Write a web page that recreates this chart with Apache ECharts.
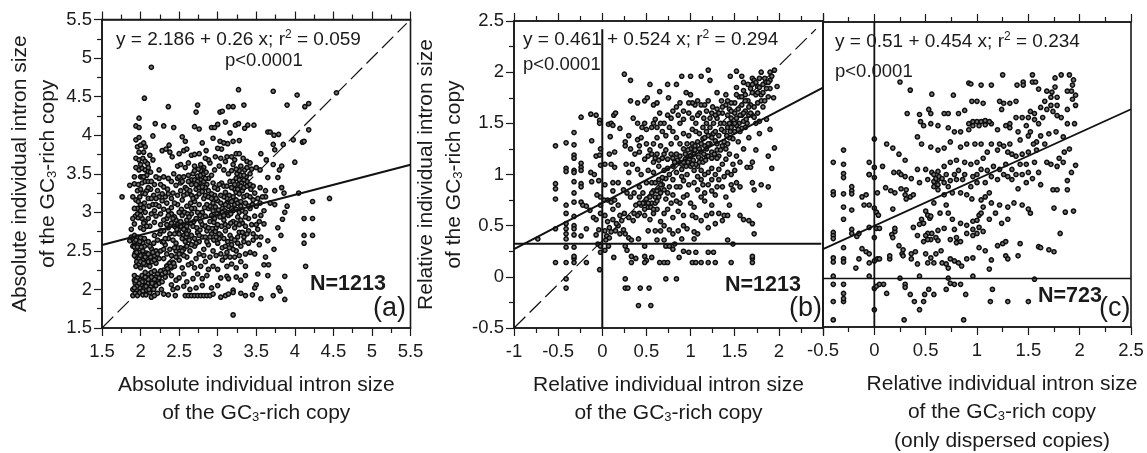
<!DOCTYPE html>
<html><head><meta charset="utf-8">
<script src="https://cdn.jsdelivr.net/npm/echarts@6/dist/echarts.min.js"></script>
<style>html,body{margin:0;padding:0;background:#fff}#c{width:1147px;height:453px}</style>
</head><body><div id="c"></div>
<script>
const pointsA=[[2.14,4.88],[2.05,4.48],[2.36,4.37],[2.74,4.39],[2.72,4.3],[3.27,4.59],[3.34,4.39],[3.72,4.57],[4.03,4.52],[3.9,4.39],[4.54,4.55],[4.13,4.37],[4.18,4.41],[4.18,4.07],[3.98,3.94],[4.1,3.91],[4.12,3.92],[4.0,3.65],[4.05,3.25],[4.45,3.18],[4.23,3.14],[4.12,2.92],[4.23,2.92],[4.12,2.7],[4.23,2.7],[4.12,2.6],[4.14,2.3],[3.87,2.17],[3.87,1.87],[3.2,1.67],[1.76,3.2],[3.56,1.88],[3.72,1.92],[3.79,2.02],[3.81,1.98],[3.52,2.2],[3.65,2.18],
[1.98,4.22],[1.94,4.12],[1.98,4.1],[2.19,4.15],[2.3,4.12],[2.43,4.1],[2.7,4.11],[2.76,4.08],[2.92,4.1],[2.96,4.1],[3.0,4.14],[3.1,4.17],[3.03,4.3],[3.06,4.31],[3.14,4.37],[3.2,4.37],[3.23,4.13],[3.27,4.15],[3.39,4.13],[3.35,4.09],[3.47,4.13],[3.16,4.03],[2.16,3.99],[3.65,4.04],[3.68,4.04],[3.73,4.0],[3.79,4.01],[3.72,3.88],[3.85,3.88],[3.74,3.81],[3.56,3.76],[3.63,3.68],[3.72,3.62],[3.83,3.6],[3.8,3.55],[3.65,3.45],[3.78,3.45],[3.62,3.28],[3.74,3.28],[3.83,3.32],[3.86,3.25],[3.62,3.2],[3.68,3.12],[3.74,3.1],[3.9,3.08],[3.87,3.0],[3.84,2.91],[3.78,2.8],[3.82,2.7],[3.65,2.63],[3.73,2.52],[3.62,2.42],[3.6,2.32],[3.66,2.32],
[1.94,3.94],[1.98,3.97],[1.96,3.85],[2.0,3.87],[2.04,3.9],[1.94,3.7],[1.98,3.68],[2.03,3.7],[2.06,3.66],[1.94,3.58],[1.98,3.55],[2.02,3.57],[2.06,3.55],[2.1,3.53],[2.13,3.52],[2.09,3.63],[1.86,3.35],[1.92,3.37],[1.97,3.36],[2.02,3.38],[2.06,3.4],[2.1,3.4],[2.14,3.4],[2.18,3.36],[1.9,3.2],[1.94,3.16],[1.99,3.2],[2.03,3.25],[2.08,3.28],[2.13,3.3],[2.17,3.22],[2.22,3.28],[1.96,3.05],[2.0,3.02],[2.06,3.0],[2.11,3.08],[2.16,3.1],[1.93,2.95],[1.97,2.93],[2.02,2.92],[2.06,2.88],[2.1,2.92],[2.2,2.95],[1.92,2.85],[2.0,2.8],[2.04,2.78],[2.12,2.82],[2.18,2.87],[1.88,2.68],[1.92,2.7],[1.96,2.68],[2.0,2.67],[2.05,2.66],[1.86,2.63],[1.92,2.6],[1.97,2.58],[2.03,2.6],[2.1,2.62],[2.18,2.7],[2.25,2.72],[1.94,2.52],[1.98,2.48],[2.03,2.5],[2.08,2.47],[2.14,2.53],[2.2,2.5],[1.94,2.42],[1.98,2.4],[2.03,2.38],[2.08,2.4],[2.13,2.42],[2.18,2.44],[2.24,2.4],[1.94,2.3],[2.0,2.28],[2.06,2.32],[2.12,2.3],[1.92,2.18],[1.96,2.15],[2.0,2.12],[2.04,2.15],[2.08,2.18],[2.12,2.12],[2.16,2.15],[2.2,2.1],[1.93,2.08],[1.97,2.04],[2.01,2.06],[2.05,2.02],[2.09,2.06],[2.13,2.04],[2.17,2.0],[2.22,2.12],[2.26,2.18],[2.3,2.25],[2.34,2.3],[2.38,2.34],[1.9,1.92],[1.93,1.95],[1.96,1.92],[1.99,1.96],[2.03,1.93],[2.07,1.93],[2.14,1.9],[2.18,1.92],[2.22,1.95],[2.27,2.0],[2.3,1.94],[2.36,1.93],[2.42,2.0],[2.45,1.92],
[2.28,3.8],[2.33,3.82],[2.37,3.87],[2.38,3.78],[2.41,3.72],[2.5,3.76],[2.56,3.8],[2.6,3.82],[2.66,3.74],[2.7,3.75],[2.76,3.76],[2.8,3.9],[2.85,3.8],[2.94,3.96],[3.03,3.92],[3.08,3.9],[3.13,3.89],[3.2,3.92],[3.28,3.93],[3.05,3.82],[3.0,3.83],[2.97,3.72],[3.12,3.72],[3.24,3.76],[3.28,3.76],[3.33,3.7],[3.38,3.66],[3.42,3.64],[2.58,3.92],[2.54,3.98],[2.24,3.55],[2.3,3.46],[2.36,3.44],[2.43,3.5],[2.48,3.6],[2.52,3.62],[2.58,3.58],[2.62,3.48],[2.68,3.5],[2.74,3.47],[2.78,3.42],[2.82,3.58],[2.9,3.64],[2.96,3.55],[3.02,3.6],[3.08,3.55],[3.14,3.5],[3.2,3.62],[3.25,3.5],[3.3,3.48],[3.35,3.55],[3.42,3.5],[3.5,3.58],[3.55,3.55],[2.3,3.33],[2.35,3.3],[2.42,3.25],[2.46,3.35],[2.52,3.38],[2.58,3.32],[2.66,3.36],[2.72,3.3],[2.76,3.38],[2.82,3.4],[2.88,3.28],[2.94,3.38],[3.0,3.3],[3.05,3.38],[3.1,3.26],[3.16,3.4],[3.22,3.3],[3.27,3.36],[3.32,3.28],[3.38,3.4],[3.43,3.3],[3.48,3.25],[3.55,3.32],
[2.28,3.15],[2.34,3.12],[2.4,3.18],[2.48,3.1],[2.54,3.16],[2.6,3.08],[2.65,3.12],[2.7,3.05],[2.76,3.1],[2.82,3.18],[2.88,3.05],[2.94,3.12],[3.0,3.15],[3.06,3.05],[3.12,3.12],[3.18,3.05],[3.24,3.16],[3.3,3.08],[3.36,3.12],[3.42,3.05],[3.5,3.08],[3.55,3.12],[2.26,2.98],[2.34,2.92],[2.4,2.98],[2.46,2.9],[2.54,2.96],[2.6,2.9],[2.66,2.98],[2.72,2.92],[2.78,2.88],[2.84,2.95],[2.9,2.88],[2.96,2.92],[3.02,2.98],[3.08,2.9],[3.14,2.96],[3.2,2.88],[3.26,2.94],[3.32,2.86],[3.4,2.92],[3.48,2.95],[3.54,2.88],[3.6,2.85],[2.3,2.76],[2.36,2.8],[2.44,2.72],[2.5,2.78],[2.56,2.7],[2.62,2.76],[2.68,2.82],[2.74,2.74],[2.8,2.68],[2.86,2.76],[2.92,2.72],[2.98,2.8],[3.04,2.7],[3.1,2.76],[3.16,2.7],[3.22,2.8],[3.28,2.74],[3.34,2.68],[3.4,2.76],[3.46,2.72],[3.52,2.78],[3.56,2.68],[2.32,2.58],[2.38,2.52],[2.46,2.6],[2.52,2.54],[2.58,2.62],[2.64,2.5],[2.7,2.56],[2.76,2.62],[2.82,2.52],[2.88,2.58],[2.94,2.5],[3.0,2.6],[3.06,2.54],[3.12,2.48],[3.18,2.58],[3.24,2.5],[3.3,2.56],[3.36,2.46],[3.42,2.48],[3.48,2.46],[3.54,2.58],
[2.3,2.4],[2.42,2.35],[2.46,2.42],[2.5,2.38],[2.54,2.28],[2.6,2.42],[2.66,2.34],[2.72,2.4],[2.78,2.3],[2.84,2.36],[2.88,2.26],[2.94,2.3],[3.0,2.26],[3.06,2.38],[3.12,2.3],[3.18,2.33],[3.24,2.28],[3.3,2.36],[3.36,2.3],[2.4,2.18],[2.46,2.12],[2.5,2.15],[2.56,2.2],[2.6,2.1],[2.68,2.14],[2.74,2.2],[2.8,2.14],[2.86,2.18],[3.04,2.15],[3.12,2.17],[3.14,2.14],[3.24,2.16],[3.3,2.12],[3.36,2.18],[2.4,2.06],[2.48,2.02],[2.56,2.04],[2.64,2.0],[2.72,2.02],[2.8,2.05],[2.92,2.02],[3.0,2.05],[3.2,1.99],[3.5,2.06],[3.48,2.02],[2.58,1.92],[2.62,1.92],[2.66,1.92],[2.7,1.92],[2.74,1.92],[2.78,1.92],[2.82,1.92],[2.86,1.92],[2.9,1.92],[2.94,1.94],[3.04,1.9],[3.1,1.92],[3.14,1.94],[3.2,1.96],[3.3,1.95],[3.36,1.92],[3.45,1.93],
[2.97,3.07],[3.01,3.03],[2.99,2.98],[3.03,2.94],[2.95,2.87],[3.0,2.84],[3.05,2.82],[2.93,2.79],[2.97,2.75],[3.02,2.72],[2.9,2.68],[2.95,2.64],[3.09,3.02],[3.13,3.0],[3.17,2.98],[3.2,3.02],[3.24,3.04],[3.28,3.0],[3.32,3.02],[3.36,3.0],[3.4,3.08],[3.45,3.1],[3.08,2.66],[3.13,2.62],[3.18,2.66],[2.53,3.04],[2.57,3.0],[2.61,2.98],[2.52,2.88],[2.56,2.84],[2.6,2.82],[2.5,2.72],[2.54,2.66],[2.59,2.68],[2.63,2.64],[2.66,2.7],[2.7,2.66],[2.73,2.8],[2.77,2.77],[2.8,2.84],[2.84,2.82],[2.88,2.8],[2.72,3.2],[2.76,3.24],[2.8,3.27],[2.84,3.22],[2.88,3.2],[2.74,3.34],[2.78,3.48],[2.82,3.5],[2.8,3.55],[2.85,3.52],[2.88,3.44],[2.92,3.48],[2.86,3.36],[2.84,3.32],[3.2,3.4],[3.24,3.44],[3.28,3.42],[3.31,3.38],[3.34,3.42],[3.37,3.46],[3.24,3.26],[3.28,3.24],[3.34,3.2],[3.38,3.22],[3.42,3.2],[3.46,3.16],[3.2,3.2],[3.15,3.22],[3.12,3.18],[3.08,3.2],[3.04,3.22],[2.96,3.22],[2.92,3.18],[2.6,3.24],[2.56,3.22],[2.52,3.28],[2.48,3.22],[2.44,3.12],[2.4,3.06],[2.36,3.02],
[2.1,2.2],[2.14,2.22],[2.18,2.24],[2.22,2.2],[2.26,2.24],[2.24,2.08],[2.28,2.1],[2.32,2.16],[2.36,2.22],[2.4,2.28],[2.44,2.3],[2.06,2.1],[2.1,2.08],[2.14,2.1],[2.18,2.06],[2.02,2.18],[2.06,2.22],[1.92,2.12],[1.9,2.0],[1.95,2.0],[1.99,2.02],[2.03,1.98],[2.08,1.99],[2.12,1.96],[1.92,2.62],[1.9,2.56],[1.94,2.64],[1.93,2.47],[1.95,2.36],[1.98,2.33],[2.0,2.44],[2.05,2.44],[2.1,2.36],[2.15,2.36],[2.2,2.34],[2.05,2.56],[2.12,2.56],[2.17,2.6],[2.22,2.64],[1.92,3.46],[1.96,3.28],[1.92,3.05],[1.9,2.92],[1.88,2.78],[2.0,3.46],[2.05,3.12],[2.1,3.18],[2.14,3.18],[2.02,3.46],[2.26,3.36],[2.24,3.2],[2.3,3.04],[2.34,2.84],[2.26,2.84],[2.4,2.86],[2.42,2.64],[2.36,2.66],[2.28,2.62],[2.34,2.46],[2.4,2.44],[2.46,2.5],[2.5,2.46],[2.56,2.44],[2.62,2.32],[2.7,2.28],[2.76,2.46],[2.82,2.44],[2.9,2.42],[2.98,2.44],[3.04,2.46],[3.1,2.42],[3.16,2.42],[3.22,2.42],[3.28,2.44],[3.34,2.62],[3.4,2.6],[3.46,2.64],[3.5,2.68],[3.44,2.84],[3.5,2.84],[3.56,2.96],[3.6,3.02],[3.52,3.18],[3.58,3.2],[3.44,3.56],[3.38,3.58],[3.3,3.6],[3.22,3.68],[3.18,3.72],[3.1,3.66],[3.04,3.7],[2.88,3.68],[2.84,3.7],[2.78,3.62],[2.7,3.6],[2.62,3.64],[2.66,3.42],[2.56,3.46],[2.48,3.44],[2.4,3.4],[2.24,3.44],[2.2,3.46],
[2.92,2.96],[2.94,3.02],[2.9,3.08],[2.86,3.1],[2.83,3.06],[2.8,3.0],[2.77,2.96],[2.74,3.0],[2.7,3.14],[2.66,3.05],[2.63,2.94],[2.65,2.86],[2.69,2.88],[2.58,2.76],[2.6,2.72],[2.56,2.78],[2.52,2.82],[2.48,2.84],[2.47,2.78],[2.44,2.82],[2.44,2.94],[2.5,3.0],[3.06,3.0],[3.08,2.96],[3.1,2.84],[3.14,2.82],[3.17,2.86],[3.24,2.86],[3.28,2.84],[3.3,2.9],[3.36,2.94],[3.36,2.82],[3.38,2.72],[3.32,2.74],[3.26,2.68],[3.22,2.64],[3.26,2.6],[3.2,2.52],[3.15,2.54],[3.1,2.56],[3.02,2.66],[2.98,2.68],[2.86,2.62],[2.84,2.68],[2.76,2.7],[2.72,2.6],[2.66,2.58],[2.6,2.56],[2.56,2.52],[2.54,2.5],[2.48,2.54],[2.44,2.54],[3.22,3.1],[3.26,3.12],[3.3,3.14],[3.18,3.14],[3.14,3.08],[3.1,3.1],[3.04,3.12],[2.98,3.18],[2.92,3.24],[2.96,3.32],[3.02,3.36],[3.08,3.34],[3.12,3.34],[3.18,3.32],[3.22,3.36],[3.26,3.3],[3.3,3.34],[3.34,3.32],[3.38,3.34],[3.42,3.36],[3.46,3.34],[3.34,3.48],[3.28,3.54],[3.24,3.56],[3.18,3.54],[2.7,3.42],[2.74,3.4],[2.72,3.36],[2.76,3.32],[2.8,3.33],[2.84,3.44],[2.78,3.54],[2.75,3.56],[2.7,3.54],[2.5,3.46],[2.54,3.4],[2.62,3.4],[2.6,3.3],[2.64,3.28],[2.66,3.22],[2.68,3.18],[2.2,2.16],[2.24,2.15],[2.28,2.2],[2.32,2.22],[2.35,2.27],[2.39,2.3],[2.43,2.34],[2.18,2.13],[2.14,2.16],[2.1,2.13],[2.06,2.16],[2.02,2.1],[1.98,2.08],[1.94,2.11],[1.95,2.04],[1.92,2.02],[2.07,2.04],[2.11,2.0],[2.15,2.08],[2.2,2.05],[1.92,2.55],[1.96,2.55],[1.99,2.62],[2.01,2.55],[1.92,2.44],[1.95,2.48],[2.0,2.36],[2.04,2.34],[2.06,2.42],[2.1,2.46],[2.16,2.48],[2.18,2.38],[2.22,2.46],[2.26,2.5],[2.3,2.52],[2.3,2.62],[2.32,2.66],[2.38,2.72],[2.26,2.76],[2.3,2.9],[2.36,2.96],[2.42,2.92],[2.32,3.2],[2.28,3.24],[2.36,3.24],[2.2,3.18],[2.2,3.1],[2.24,3.08],[2.0,3.1],[2.04,3.06],[1.96,2.98],[2.0,2.96],[2.04,2.86],[2.08,2.82],[2.14,2.98],[2.18,3.02],[2.1,3.32],[2.06,3.24],[2.0,3.3],[1.97,3.14],[2.08,3.48],[2.04,3.46],[2.1,3.58],[2.0,3.62],[2.04,3.78],[1.98,3.78],[2.06,3.85],[2.12,3.74],[2.16,3.68]];
const pointsB=[[0.25,1.98],[0.32,1.92],[0.54,1.88],[0.65,1.81],[0.74,1.88],[0.84,1.88],[0.9,1.96],[1.0,1.96],[1.12,1.96],[1.2,2.02],[1.22,1.92],[1.3,1.8],[1.45,1.96],[1.52,2.01],[1.58,1.96],[1.7,1.94],[1.8,2.0],[1.9,2.0],[1.95,2.02],[1.98,1.86],
[0.26,-0.02],[0.26,-0.11],[0.29,-0.11],[0.43,-0.11],[0.53,-0.11],[0.41,-0.28],[0.55,-0.28],[0.72,-0.02],[0.84,-0.02],[-0.03,0.07],[-0.41,-0.02],[-0.41,-0.11],[-0.53,0.14],[-0.41,0.14],[-0.32,0.14],[-0.18,0.14],[-0.32,0.18],[-0.32,0.2],[-0.73,0.37],
[-0.53,1.28],[-0.53,0.91],[-0.53,0.86],[-0.53,0.76],[-0.53,0.47],[-0.41,1.31],[-0.41,1.06],[-0.41,1.03],[-0.41,0.7],[-0.41,0.62],[-0.41,0.52],[-0.41,0.47],[-0.41,0.42],[-0.41,0.37],[-0.41,0.29],[-0.32,1.41],[-0.32,1.29],[-0.32,1.19],[-0.32,1.16],[-0.32,1.04],[-0.32,1.02],[-0.32,0.93],[-0.32,0.82],[-0.32,0.73],[-0.32,0.59],[-0.32,0.5],[-0.32,0.47],[-0.32,0.41],[-0.32,0.29],[-0.24,1.56],[-0.24,1.11],[-0.24,1.07],[-0.24,1.04],[-0.24,0.91],[-0.24,0.88],[-0.24,0.73],[-0.22,0.7],[-0.24,0.4],[-0.18,0.69],[-0.14,0.65],[-0.18,0.47],[-0.13,1.59],[-0.07,1.58],[-0.03,1.53],[-0.03,1.5],[-0.12,1.33],[-0.13,1.02],[-0.09,1.0],[-0.12,0.93],[-0.04,0.94],[-0.1,0.58],[-0.07,0.56],[-0.02,0.62],[-0.02,0.7],[-0.02,0.78],[-0.02,1.09],[-0.02,1.25],[-0.07,1.18],[-0.03,1.19],[-0.06,0.8],[-0.04,0.46],[-0.07,0.41],[-0.05,0.32],[-0.02,0.3],[-0.02,0.24],
[0.03,1.1],[0.1,1.1],[0.14,1.07],[0.03,0.9],[0.12,0.92],[0.02,0.75],[0.06,0.75],[0.1,0.73],[0.14,0.75],[0.18,0.7],[0.03,0.6],[0.03,0.45],[0.05,0.4],[0.08,0.38],[0.13,0.19],[0.03,0.26],[0.07,0.3],[0.08,1.2],[0.14,1.22],[0.09,1.37],[0.07,1.49],[0.1,1.5],[0.12,1.48],[0.2,1.45],[0.13,1.58],[0.15,1.6],[0.26,1.32],[0.3,1.38],[0.26,1.28],[0.32,1.25],[0.27,1.1],[0.3,1.02],[0.24,0.85],[0.28,0.82],[0.32,0.78],[0.2,0.6],[0.25,0.62],[0.3,0.58],[0.35,0.55],[0.18,0.5],[0.15,0.45],[0.26,0.42],[0.3,0.38],[0.33,0.36],[0.41,0.37],[0.26,0.3],[0.28,0.26],[0.33,0.2],[0.33,0.14],[0.38,0.18],[0.48,0.3],[0.48,0.2],[0.5,0.16],[0.48,0.14],[0.56,0.19],[0.65,0.14],[0.7,0.14],[0.74,0.14],[0.72,0.3],[0.76,0.3],[0.8,0.27],[0.82,0.32],
[0.32,1.72],[0.4,1.7],[0.48,1.72],[0.51,1.75],[0.58,1.68],[0.62,1.7],[0.35,1.55],[0.4,1.5],[0.45,1.46],[0.5,1.44],[0.56,1.46],[0.6,1.54],[0.65,1.6],[0.7,1.5],[0.75,1.75],[0.8,1.62],[0.86,1.58],[0.92,1.62],[0.95,1.8],[1.0,1.78],[1.05,1.68],[1.1,1.6],[1.15,1.55],[1.2,1.72],[1.25,1.66],[1.3,1.64],[1.35,1.72],[1.4,1.78],[1.44,1.64],[1.5,1.7],[1.55,1.76],[1.6,1.82],[1.65,1.72],[1.7,1.8],[1.76,1.86],[1.8,1.78],[1.85,1.9],[1.9,1.84],[1.94,1.75],[1.72,1.92],[1.6,1.9],[1.65,1.88],[1.52,1.85],[0.4,1.34],[0.42,1.28],[0.42,1.22],[0.48,1.15],[0.52,1.18],[0.58,1.12],[0.62,1.2],[0.66,1.28],[0.7,1.2],[0.74,1.15],[0.78,1.3],[0.84,1.2],[0.88,1.12],[0.92,1.25],[0.98,1.18],[1.02,1.3],[1.06,1.42],[1.1,1.25],[1.14,1.35],[1.18,1.18],[1.22,1.3],[1.26,1.4],[1.3,1.24],[1.34,1.5],[1.38,1.42],[1.42,1.3],[1.46,1.55],[1.5,1.42],[1.54,1.32],[1.58,1.58],[1.62,1.46],[1.66,1.36],[1.7,1.58],[1.74,1.5],[1.78,1.4],[1.82,1.66],[1.86,1.54],[1.9,1.44],[1.95,1.26],[1.88,1.18],[1.92,1.06],[1.74,1.24],[1.7,1.12],[1.64,1.07],[1.68,1.07],
[1.0,1.12],[1.04,1.2],[1.08,1.08],[1.12,1.15],[0.9,1.05],[0.95,1.08],[0.84,1.02],[0.8,1.08],[1.16,1.28],[1.2,1.38],[1.24,1.22],[1.28,1.33],[1.32,1.18],[1.36,1.28],[1.4,1.15],[1.44,1.2],[1.48,1.1],[1.52,1.18],[1.56,1.12],[1.6,1.25],[0.4,1.05],[0.44,1.0],[0.3,0.92],[0.36,0.82],[0.42,0.78],[0.48,0.72],[0.52,0.68],[0.56,0.72],[0.6,0.78],[0.64,0.85],[0.68,0.9],[0.72,0.96],[0.76,0.88],[0.8,0.8],[0.84,0.74],[0.88,0.88],[0.92,0.94],[0.96,0.8],[1.0,0.72],[1.04,0.68],[1.08,0.85],[1.12,0.95],[1.16,0.82],[1.2,0.9],[1.24,0.7],[1.28,0.8],[1.32,0.95],[1.36,0.88],[1.4,0.78],[1.44,0.7],[1.48,0.85],[1.52,0.92],[1.56,0.88],[1.7,0.92],[1.72,0.85],[1.8,0.9],[1.88,0.88],[1.78,0.7],
[0.42,0.62],[0.48,0.6],[0.54,0.56],[0.58,0.62],[0.62,0.66],[0.66,0.54],[0.7,0.62],[0.74,0.66],[0.8,0.58],[0.86,0.64],[0.92,0.6],[1.02,0.6],[1.06,0.58],[1.12,0.55],[1.18,0.6],[1.24,0.62],[1.28,0.52],[1.36,0.55],[1.38,0.6],[1.56,0.6],[1.6,0.56],[1.66,0.55],[1.7,0.52],[1.72,0.42],[0.52,0.45],[0.6,0.45],[0.66,0.45],[0.7,0.5],[0.76,0.46],[0.8,0.42],[0.86,0.45],[0.92,0.5],[0.96,0.47],[1.04,0.44],[1.08,0.42],[1.2,0.48],[1.42,0.36],[0.62,0.36],[0.7,0.36],[0.9,0.37],[1.04,0.37],[0.92,0.25],[0.98,0.24],[1.06,0.24],[1.2,0.24],[1.26,0.24],[1.48,0.32],[1.12,0.14],[1.2,0.14],[1.02,0.14],[1.06,0.14],[1.28,0.14],[1.46,0.14],[1.7,0.14],[1.7,0.18],[1.7,0.2],[0.87,0.19],
[0.9,1.1],[0.94,1.15],[0.97,1.12],[1.0,1.18],[1.03,1.14],[1.06,1.1],[1.09,1.17],[1.12,1.22],[1.15,1.2],[1.18,1.25],[1.0,1.25],[1.05,1.28],[1.08,1.32],[1.12,1.3],[1.16,1.36],[1.2,1.3],[1.24,1.36],[1.28,1.42],[1.32,1.38],[1.35,1.44],[1.38,1.5],[1.42,1.46],[1.45,1.42],[1.48,1.5],[1.52,1.55],[1.55,1.5],[1.58,1.45],[1.52,1.48],[1.42,1.58],[1.46,1.62],[1.5,1.6],[1.54,1.64],[1.58,1.68],[1.62,1.62],[1.66,1.58],[1.64,1.5],[1.6,1.52],[1.56,1.42],[1.48,1.35],[1.44,1.36],[1.4,1.25],[1.3,1.3],[1.72,1.66],[1.76,1.7],[1.8,1.72],[1.74,1.78],[1.78,1.85],[1.82,1.88],[1.86,1.84],[1.84,1.94],[1.78,1.94],[1.74,1.9],[1.9,1.92],[1.68,1.68],[1.62,1.72],[1.58,1.76],[1.4,1.68],[1.36,1.6],[1.3,1.55],[1.26,1.5],[1.22,1.46],[1.18,1.42],[1.14,1.46],[1.1,1.4],[1.06,1.5],[1.02,1.44],[0.98,1.38],[0.96,1.3],[0.92,1.4],[0.88,1.3],[0.84,1.36],[0.8,1.42],[0.76,1.46],[0.72,1.38],[0.68,1.42],[0.62,1.36],[0.58,1.3],[0.54,1.24],[0.5,1.3],[0.88,1.5],[0.92,1.54],[0.98,1.6],[1.02,1.55],[1.08,1.58],[1.12,1.68],[1.18,1.62],[0.44,0.7],[0.48,0.66],[0.5,0.76],[0.54,0.78],[0.58,0.84],[0.6,0.72],[0.62,0.74],[0.56,0.92],[0.6,0.92],[0.64,0.95],[0.68,0.97],[0.7,0.85],[0.74,0.82],[0.46,0.82],[0.42,0.88],[0.5,0.92],[1.2,1.02],[1.24,1.06],[1.28,1.0],[1.32,1.05],[1.36,1.1],[1.42,1.02],[1.46,1.0],[1.5,1.04],[1.08,0.98],[1.04,1.04],[1.12,1.04],[0.9,0.98],[0.96,1.0],[0.74,1.06],[0.7,1.04],[0.64,1.08],[0.58,1.02],[0.52,1.04],[0.34,1.1],[0.37,1.2],[0.12,0.56],[0.16,0.52],[0.22,0.55],[0.04,0.36],[0.08,0.48],[0.12,0.66],[0.72,0.76],[0.78,0.72],[0.88,0.72],[0.92,0.78],[1.12,0.78],[1.16,0.74],[1.32,0.62],[1.42,0.6],
[0.94,1.2],[0.97,1.24],[1.0,1.08],[0.92,1.12],[0.88,1.18],[0.85,1.14],[0.82,1.12],[1.02,1.1],[1.05,1.24],[1.1,1.12],[1.14,1.12],[1.17,1.14],[1.2,1.18],[1.24,1.16],[1.27,1.2],[1.3,1.16],[1.34,1.24],[1.38,1.32],[1.41,1.38],[1.44,1.5],[1.46,1.46],[1.5,1.5],[1.54,1.44],[1.56,1.58],[1.6,1.6],[1.63,1.54],[1.66,1.66],[1.68,1.6],[1.72,1.56],[1.76,1.6],[1.78,1.52],[1.46,1.7],[1.42,1.72],[1.36,1.66],[1.32,1.6],[1.52,1.78],[1.62,1.78],[1.68,1.84],[1.7,1.88],[1.76,1.8],[1.82,1.8],[1.88,1.9],[1.92,1.96],[1.84,1.72],[1.88,1.76],[1.18,1.5],[1.22,1.55],[1.28,1.58],[1.24,1.6],[1.16,1.68],[1.08,1.72],[1.02,1.7],[0.98,1.7],[0.88,1.7],[0.84,1.66],[0.78,1.55],[0.74,1.58],[0.66,1.5],[0.62,1.46],[0.58,1.5],[0.48,1.5],[0.44,1.36],[0.56,1.2],[0.6,1.16],[0.64,1.14],[0.68,1.16],[0.72,1.24],[0.78,1.2],[0.8,1.16],[0.52,0.72],[0.55,0.68],[0.58,0.66],[0.46,0.72],[0.38,0.7],[0.42,0.72],[0.56,0.82],[0.62,0.84],[0.66,0.82],[0.66,0.9],[0.64,0.78],[0.4,0.6],[0.36,0.62],[0.24,0.46],[0.2,0.42],[0.1,0.44],[0.06,0.54],[0.12,0.84],[0.18,0.92],[1.24,0.95],[1.16,1.0],[1.14,0.9],[1.04,0.92],[0.98,0.9],[0.84,0.88],[0.8,0.95],[0.76,1.0],[1.38,0.98],[1.46,0.9],[1.3,0.88],[1.24,0.84]];
const pointsC=[[0.25,1.91],[0.35,1.83],[0.56,1.79],[0.77,1.78],[0.92,1.9],[0.94,1.89],[1.04,1.88],[1.14,1.88],[1.25,1.98],[1.39,1.88],[1.45,1.91],[1.45,1.88],[1.54,1.98],[1.54,1.91],[1.57,1.91],[1.82,1.98],[1.9,1.98],[1.76,1.95],[1.76,1.86],[1.94,1.93],[1.93,1.88],[1.92,1.82],[1.88,1.82],[1.96,1.78],[1.93,1.74],[1.96,1.68],[1.88,1.64],[1.6,1.84],[1.68,1.82],[1.73,1.81],[1.78,1.76],[1.72,1.76],[1.66,1.72],
[-0.4,-0.43],[0.29,-0.43],[0.87,-0.43],[0,-0.33],[0.44,-0.33],[-0.4,-0.25],[-0.3,-0.25],[-0.3,-0.22],[-0.3,-0.17],[-0.4,-0.08],[-0.3,-0.08],[-0.4,0.0],[-0.05,0.0],[0.25,-0.02],[0.44,0.0],[0.72,-0.02],[0.96,0.0],[1.56,-0.03],[0,-0.12],[0.02,-0.1],[0.05,-0.08],[0.09,-0.08],[0.12,-0.17],[0.3,-0.08],[0.3,-0.11],[0.35,-0.18],[0.39,-0.25],[0.48,-0.25],[0.49,-0.18],[0.53,-0.13],[0.58,-0.18],[0.7,-0.13],[0.74,-0.07],[0.78,-0.08],[0.84,-0.08],[0.89,-0.18],[1.13,-0.25],[1.15,-0.13],[1.3,-0.25],[1.5,-0.25],
[-0.3,1.24],[-0.4,1.12],[-0.3,1.1],[-0.3,1.01],[-0.3,0.97],[-0.4,0.83],[-0.4,0.8],[-0.3,0.81],[-0.22,0.88],[-0.22,0.84],[-0.22,0.81],[-0.3,0.68],[-0.3,0.56],[-0.22,0.65],[-0.12,0.78],[-0.08,0.8],[-0.1,0.7],[-0.05,0.7],[-0.4,0.43],[-0.4,0.4],[-0.4,0.37],[-0.22,0.46],[-0.22,0.42],[-0.17,0.39],[-0.15,0.42],[-0.3,0.28],[-0.12,0.27],[-0.08,0.24],[-0.05,0.22],[-0.4,0.18],[-0.4,0.14],[-0.3,0.17],[-0.3,0.14],[-0.15,0.17],[-0.05,0.13],[-0.05,0.48],[-0.18,0.08],
[0,0.97],[0,1.35],[-0.05,1.12],[0,1.07],[-0.05,1.0],[-0.05,1.0],[0.03,0.82],[0,0.67],[0.02,0.63],[0.04,0.6],[0.02,0.47],[0,0.38],[0.05,0.47],[0.03,0.17],[0,0.15],[0.05,0.17],[0.15,0.17],[0.15,0.2],[0.11,0.87],[0.16,0.84],[0.2,0.82],[0.18,0.66],[0.2,0.44],[0.17,0.41],[0.18,0.38],[0.2,0.47],[0.24,0.3],[0.28,0.26],[0.27,0.22],[0.12,1.3],[0.18,1.26],[0.24,1.2],[0.3,1.14],[0.08,1.08],[0.19,1.02],[0.24,1.02],[0.26,1.0],[0.3,0.98],[0.31,0.85],[0.26,0.86],[0.3,0.8],[0.31,0.76],[0.35,0.78],[0.38,0.8],[0.28,0.2],[0.36,0.22],[0.4,0.24],[0.42,0.12],[0.52,0.13],[0.36,0.17],[0.5,0.22],[0.55,0.18],[0.58,0.13],[0.6,0.22],[0.65,0.25],[0.66,0.13],[0.7,0.12],[0.72,0.08],[0.74,0.17],[0.78,0.15],[0.82,0.13],[0.85,0.1],[0.9,0.17],[0.96,0.18],[1.02,0.28],[1.08,0.25],[1.14,0.16],[1.12,0.07],[1.2,0.3],[1.25,0.32],[1.28,0.34],[1.28,0.2],[1.3,0.17],[1.4,0.2],[1.42,0.32],[1.6,0.29],[1.62,0.28],[1.7,0.26],[1.75,0.24],[1.81,0.42],[1.75,0.67],[1.86,0.63],[1.94,0.64],[1.74,0.85],[1.78,0.85],[1.88,0.85],[1.88,0.94],[1.92,1.02],[1.96,1.09],[1.85,1.22],[1.8,1.16],[1.84,1.12],[1.78,1.08],[1.72,1.1],[1.68,1.12],[1.66,1.3],[1.7,1.4],[1.77,1.42],[1.84,1.37],[1.9,1.25],[1.88,1.5],[1.95,1.5],[1.82,1.56],[1.78,1.58],[1.74,1.62],[1.68,1.64],[1.62,1.66],[1.52,1.62],[1.44,1.56],[1.38,1.56],[1.32,1.5],[1.28,1.48],[1.24,1.64],[1.26,1.7],[1.22,1.72],[1.32,1.7],[1.38,1.72],[1.06,1.7],[1.0,1.72],[0.95,1.72],[0.88,1.63],[0.82,1.6],[0.72,1.6],[0.68,1.6],[0.53,1.64],[0.55,1.6],[0.44,1.59],[0.32,1.6],[0.45,1.52],[0.48,1.48],[0.55,1.5],[0.62,1.48],[0.72,1.46],[0.78,1.42],[0.84,1.42],[0.92,1.44],[0.96,1.48],[1.02,1.48],[1.08,1.49],[1.14,1.5],[1.2,1.44],[1.32,1.46],[1.4,1.42],[1.48,1.48],[1.52,1.42],[1.58,1.32],[1.62,1.38],[1.55,1.3],[1.5,1.38],[1.42,1.34],[1.32,1.3],[1.26,1.28],[1.22,1.3],[1.14,1.3],[1.04,1.3],[0.98,1.3],[0.9,1.3],[0.84,1.27],[0.74,1.32],[0.68,1.26],[0.62,1.24],[0.55,1.27],[0.46,1.3],[0.42,1.37],
[0.42,1.05],[0.5,1.05],[0.56,1.02],[0.62,1.03],[0.68,1.08],[0.74,1.12],[0.8,1.14],[0.88,1.12],[0.94,1.1],[1.0,1.12],[1.06,1.16],[1.1,1.22],[1.16,1.08],[1.22,1.05],[1.28,1.1],[1.34,1.05],[1.42,1.1],[1.48,1.1],[1.56,1.12],[1.6,1.02],[1.54,0.96],[1.48,0.92],[1.62,0.9],[1.4,0.86],[1.34,0.95],[1.3,0.98],[1.26,1.0],[1.2,0.95],[1.14,0.98],[1.08,0.92],[1.0,0.92],[0.94,0.88],[0.86,0.95],[0.8,0.95],[0.74,0.94],[0.68,0.92],[0.62,0.95],[0.58,0.93],[0.52,0.95],[0.44,0.92],[0.36,0.96],[0.62,0.85],[0.68,0.8],[0.76,0.82],[0.84,0.82],[0.9,0.8],[0.95,0.76],[1.04,0.75],[1.08,0.78],[1.14,0.72],[1.22,0.7],[1.3,0.68],[1.36,0.72],[1.44,0.7],[1.5,0.66],[1.52,0.62],[0.58,0.72],[0.7,0.7],[0.72,0.62],[0.76,0.56],[0.84,0.52],[0.9,0.5],[0.96,0.46],[1.02,0.48],[1.06,0.44],[1.12,0.56],[1.18,0.62],[1.24,0.52],[1.3,0.56],[0.54,0.57],[0.48,0.52],[0.44,0.51],[0.38,0.48],[0.52,0.42],[0.6,0.38],[0.62,0.45],[0.68,0.47],[0.74,0.36],[0.8,0.33],[0.84,0.34],[0.48,0.34],[0.55,0.36],[0.62,0.35],
[0.58,1.0],[0.6,0.96],[0.63,0.98],[0.58,0.88],[0.62,0.9],[0.66,0.96],[0.7,1.0],[0.72,0.88],[0.96,1.52],[1.0,1.52],[1.04,1.52],[1.08,1.53],[1.12,1.52],[0.92,1.5],[1.56,1.54],[1.6,1.5],[1.5,1.56],[1.56,1.6],[1.64,1.56],[1.72,1.68],[1.78,1.68],[1.44,1.0],[1.5,1.02],[1.38,1.0],[0.78,0.46],[0.8,0.38],[0.9,0.42],[0.96,0.4],[1.0,0.42],[0.96,0.54],[1.0,0.55],[1.02,0.6],[1.04,0.62],[1.06,0.68],[1.12,0.82],[0.5,0.64],[0.52,0.6],[0.55,0.59],[0.46,0.56],[0.42,0.4],[0.5,0.4],[0.52,0.36],[0.56,0.42],[0.64,0.62],[1.0,1.0],[1.04,1.05],[1.1,1.04],[0.96,0.98],[0.88,1.0],[0.82,1.04],[0.78,1.0],[1.34,1.2],[1.38,1.18],[1.3,1.22],[1.44,1.2],[1.5,1.22],[1.58,1.24],[1.2,1.24]];
const fit={a:[[1.5,2.576],[5.5,3.616]],b:[[-1,0.27],[2.5,1.85]],c:[[-0.5,0.266],[2.5,1.642]]};
const identity={a:[[1.5,1.5],[5.45,5.45]],b:[[-1,-0.5],[2.42,2.42]]};
const hLine={b:[[-1,0.323],[2.48,0.323]],c:[[-0.5,-0.022],[2.5,-0.022]]};
const vLine={b:[[0,-0.5],[0,2.42]],c:[[0,-0.5],[0,2.5]]};
const xNames=["{s|Absolute individual intron size}\n{s|of the GC}{b|3}{s|-rich copy}","{s|Relative individual intron size}\n{s|of the GC}{b|3}{s|-rich copy}","{s|Relative individual intron size}\n{s|of the GC}{b|3}{s|-rich copy}\n{c|(only dispersed copies)}"];
const yNames=["{s|Absolute individual intron size}\n{s|of the GC}{b|3}{s|-rich copy}","{s|Relative individual intron size}\n{s|of the GC}{b|3}{s|-rich copy}"];
const F='"Liberation Sans",Arial,sans-serif',NS=21,FS=18.5,K='#1a1a1a';
const rich={s:{fontSize:NS,fontFamily:F,color:K,lineHeight:28},c:{fontSize:NS,fontFamily:F,color:K,lineHeight:30},b:{fontSize:13,fontFamily:F,color:K,lineHeight:28,padding:[9,0,0,0]},u:{fontSize:12,fontFamily:F,color:K,padding:[0,0,9,0]},t:{fontSize:19,fontFamily:F,color:K}};
const chart=echarts.init(document.getElementById('c'),null,{renderer:'canvas'});
function xA(g,min,max,name,o){return [{gridIndex:g,type:'value',min,max,interval:.5,position:'bottom',name,nameLocation:'middle',nameGap:o.gap,nameTextStyle:{fontSize:NS,fontFamily:F,color:K,lineHeight:28,padding:o.pad||0,rich},axisLine:{onZero:false,lineStyle:{color:K,width:1.6}},axisTick:{length:8,inside:false,lineStyle:{color:K,width:1.2}},minorTick:{show:true,splitNumber:2,length:5,lineStyle:{color:K,width:1.2}},axisLabel:{fontSize:FS,fontFamily:F,color:K,margin:14,hideOverlap:false,showMaxLabel:o.showMax,showMinLabel:true},splitLine:{show:false},minorSplitLine:{show:false}},
{gridIndex:g,type:'value',min,max,interval:.5,position:'top',axisLine:{onZero:false,lineStyle:{color:K,width:1.6}},axisTick:{length:8,lineStyle:{color:K,width:1.2}},minorTick:{show:true,splitNumber:2,length:5,lineStyle:{color:K,width:1.2}},axisLabel:{show:false},splitLine:{show:false}}];}
function yA(g,min,max,name,show,gap){return {gridIndex:g,type:'value',min,max,interval:.5,position:'left',name,nameLocation:'middle',nameGap:gap,nameTextStyle:{fontSize:NS,fontFamily:F,color:K,lineHeight:28,rich},axisLine:{onZero:false,lineStyle:{color:K,width:1.6}},axisTick:{show,length:8,lineStyle:{color:K,width:1.2}},minorTick:{show,splitNumber:2,length:5,lineStyle:{color:K,width:1.2}},axisLabel:{show,fontSize:FS,fontFamily:F,color:K,margin:10,hideOverlap:false},splitLine:{show:false}};}
function pts(g,d){return {type:'scatter',xAxisIndex:g*2,yAxisIndex:g,data:d,symbol:'circle',symbolSize:4.2,large:false,itemStyle:{color:'#777',borderColor:'#0d0d0d',borderWidth:1.5,opacity:1},silent:true,z:2};}
function ln(g,d,w,dash,z){return {type:'line',xAxisIndex:g*2,yAxisIndex:g,data:d,showSymbol:false,symbol:'none',silent:true,z:z||3,lineStyle:{color:'#111',width:w,type:dash||'solid'}};}
function note(text,left,top,o){return {text,left,top,padding:0,textStyle:Object.assign({fontSize:FS,fontFamily:F,color:K,fontWeight:'normal',rich},o||{})};}
const big={fontSize:21.5,fontWeight:'bold'};
chart.setOption({animation:false,backgroundColor:'#fff',
grid:[{left:102,top:19.5,width:308.5,height:308.5},{left:514,top:21,width:309,height:307},{left:823,top:22,width:308,height:305}].map(g=>Object.assign(g,{show:true,borderColor:K,borderWidth:1.6,backgroundColor:'transparent',containLabel:false,outerBoundsMode:'none'})),
xAxis:[...xA(0,1.5,5.5,xNames[0],{gap:43,showMax:true}),...xA(1,-1,2.5,xNames[1],{gap:43,showMax:false}),...xA(2,-0.5,2.5,xNames[2],{gap:43,showMax:true,pad:[0,0,0,50]})],
yAxis:[yA(0,1.5,5.5,yNames[0],true,39),yA(1,-0.5,2.5,yNames[1],true,36),yA(2,-0.5,2.5,'',false,0)],
series:[pts(0,pointsA),ln(0,fit.a,2),ln(0,identity.a,1.2,[16,6],1),pts(1,pointsB),ln(1,fit.b,2),ln(1,identity.b,1.2,[16,6],1),ln(1,hLine.b,2),ln(1,vLine.b,2),pts(2,pointsC),ln(2,fit.c,1.8),ln(2,hLine.c,1.5),ln(2,vLine.c,1.8)],
title:[note('{t|y = 2.186 + 0.26 x; r}{u|2}{t| = 0.059}',116,29),note('p<0.0001',225,51),note('N=1213',310,273,big),note('(a)',373,295,{fontSize:27}),
note('{t|y = 0.461 + 0.524 x; r}{u|2}{t| = 0.294}',523,29),note('p<0.0001',523,55),note('N=1213',725,274,big),note('(b)',789,295,{fontSize:27}),
note('{t|y = 0.51 + 0.454 x; r}{u|2}{t| = 0.234}',835,31),note('p<0.0001',835,62),note('N=723',1038,285,big),note('(c)',1099,295,{fontSize:27})]
});
</script></body></html>
